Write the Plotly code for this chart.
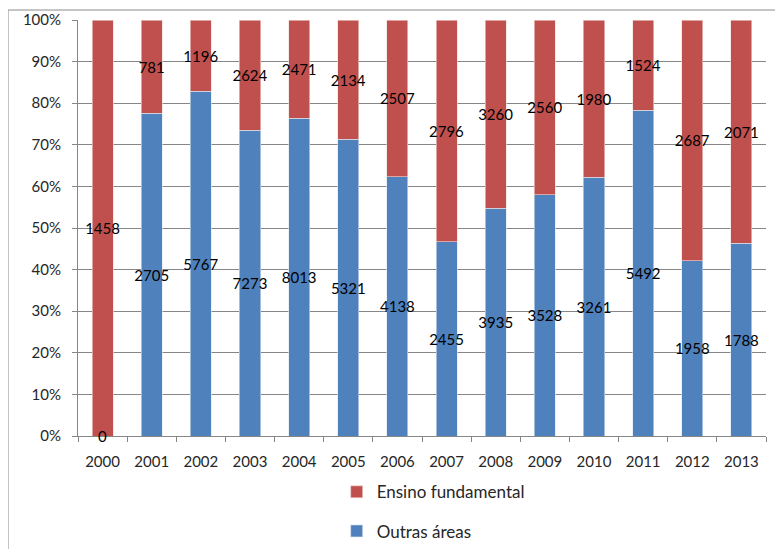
import plotly.graph_objects as go

years = ["2000", "2001", "2002", "2003", "2004", "2005", "2006",
         "2007", "2008", "2009", "2010", "2011", "2012", "2013"]
outras_areas = [0, 2705, 5767, 7273, 8013, 5321, 4138,
                2455, 3935, 3528, 3261, 5492, 1958, 1788]
ensino_fundamental = [1458, 781, 1196, 2624, 2471, 2134, 2507,
                      2796, 3260, 2560, 1980, 1524, 2687, 2071]

FONT = "Lato"
label_font = dict(family=FONT, size=15, color="#000000")

fig = go.Figure()
fig.add_trace(go.Bar(
    x=years, y=outras_areas, name="Outras áreas", legendgroup="b",
    legendrank=2,
    marker=dict(color="#4F81BD", line=dict(color="#DCE6F2", width=0.6)),
    text=[str(v) for v in outras_areas], textposition="inside",
    insidetextanchor="middle", textangle=0, constraintext="none",
    textfont=label_font, cliponaxis=False,
))
fig.add_trace(go.Bar(
    x=years, y=ensino_fundamental, name="Ensino fundamental", legendgroup="a",
    legendrank=1,
    marker=dict(color="#C0504D", line=dict(color="#F2DCDB", width=0.6)),
    text=[str(v) for v in ensino_fundamental], textposition="inside",
    insidetextanchor="middle", textangle=0, constraintext="none",
    textfont=label_font, cliponaxis=False,
))

# labels for zero-height segments (plotly hides inside text on empty bars)
annotations = []
for i, v in enumerate(outras_areas):
    if v == 0:
        annotations.append(dict(x=i, y=0, xref="x", yref="y", text=str(v),
                                showarrow=False, font=label_font,
                                yanchor="middle"))

fig.update_layout(
    width=783, height=549,
    margin=dict(l=70, r=25, t=12, b=121, autoexpand=False),
    barmode="stack", barnorm="percent", bargap=0.57,
    plot_bgcolor="white", paper_bgcolor="white",
    font=dict(family=FONT, size=15, color="#262626"),
    showlegend=True,
    legend=dict(x=0.376, y=-0.092, xanchor="left", yanchor="top",
                orientation="v", traceorder="grouped",
                tracegroupgap=14, font=dict(family=FONT, size=17, color="#262626"),
                bgcolor="rgba(0,0,0,0)"),
    annotations=annotations,
    shapes=[dict(type="rect", xref="paper", yref="paper",
                 x0=-0.1017, y0=-0.6, x1=1.2, y1=1.024,
                 line=dict(color="#8C8C8C", width=1), layer="below")],
)
fig.update_xaxes(
    type="category", showline=True, linecolor="#868686", linewidth=1,
    ticks="outside", tickson="boundaries", ticklen=5, tickcolor="#868686",
    showgrid=False, tickfont=dict(family=FONT, size=15, color="#262626"),
    ticklabelstandoff=12, automargin=False,
)
fig.update_yaxes(
    range=[0, 100], dtick=10, ticksuffix="%", showline=True,
    linecolor="#868686", linewidth=1, ticks="outside", ticklen=5,
    tickcolor="#868686", showgrid=True, gridcolor="#868686", gridwidth=1,
    zeroline=False, tickfont=dict(family=FONT, size=15, color="#262626"),
    ticklabelstandoff=8, automargin=False,
)

fig.write_html("out.html")
